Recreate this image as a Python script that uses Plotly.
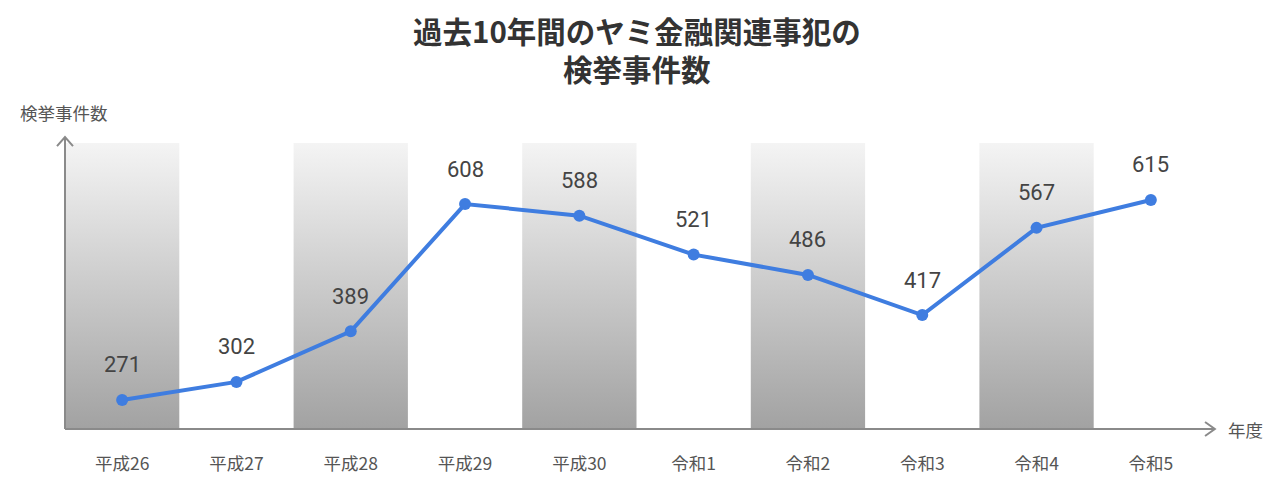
import plotly.graph_objects as go

categories = ["平成26", "平成27", "平成28", "平成29", "平成30", "令和1", "令和2", "令和3", "令和4", "令和5"]
cases = [271, 302, 389, 608, 588, 521, 486, 417, 567, 615]
band_indices = [0, 2, 4, 6, 8]

title_lines = ["過去10年間のヤミ金融関連事犯の", "検挙事件数"]
y_label = "検挙事件数"
x_label = "年度"

FONT = "Noto Sans CJK JP, Roboto, sans-serif"
NUM_FONT = "Roboto, Noto Sans CJK JP, sans-serif"
Y_MIN, Y_MAX = 221, 713
LINE_BLUE = "#3f7de0"
AXIS_GRAY = "#8a8a8a"

fig = go.Figure()

# gradient background bands for alternating years
for i in band_indices:
    fig.add_trace(go.Scatter(
        x=[i - 0.5, i + 0.5, i + 0.5, i - 0.5, i - 0.5],
        y=[Y_MIN, Y_MIN, Y_MAX, Y_MAX, Y_MIN],
        mode="lines", line=dict(width=0), fill="toself",
        fillgradient=dict(type="vertical",
                          colorscale=[[0, "#a2a2a2"], [1, "#f4f4f4"]]),
        hoverinfo="skip", showlegend=False,
    ))

xs = list(range(len(categories)))
fig.add_trace(go.Scatter(
    x=xs, y=cases, mode="lines+markers",
    line=dict(color=LINE_BLUE, width=4),
    marker=dict(color=LINE_BLUE, size=12),
    hoverinfo="skip", showlegend=False,
))

for x, v in zip(xs, cases):
    fig.add_annotation(x=x, y=v, text=str(v), showarrow=False, yshift=35,
                       font=dict(family=NUM_FONT, size=22, color="#444444"))

# axis lines with open chevron arrows
ax = dict(xref="paper", yref="paper", type="line",
          line=dict(color=AXIS_GRAY, width=2))
fig.add_shape(x0=0, y0=0, x1=1.006, y1=0, **ax)
fig.add_shape(x0=0, y0=0, x1=0, y1=1.021, **ax)
fig.add_shape(type="path", xref="paper", yref="paper",
              path="M -0.007 0.989 L 0 1.021 L 0.007 0.989",
              line=dict(color=AXIS_GRAY, width=2))
fig.add_shape(type="path", xref="paper", yref="paper",
              path="M 0.9974 0.0245 L 1.006 0 L 0.9974 -0.0245",
              line=dict(color=AXIS_GRAY, width=2))

fig.add_annotation(xref="paper", yref="paper", x=-0.001, y=1.105,
                   text=y_label, showarrow=False, xanchor="center", yanchor="middle",
                   font=dict(family=FONT, size=17.5, color="#555555"))
fig.add_annotation(xref="paper", yref="paper", x=1.0325, y=0.0,
                   text=x_label, showarrow=False, xanchor="center", yanchor="middle",
                   font=dict(family=FONT, size=17.5, color="#555555"))

# two-line title
for line_text, ypos in zip(title_lines, [1.395, 1.262]):
    fig.add_annotation(xref="paper", yref="paper", x=(637 - 65) / 1143, y=ypos,
                       text=f"<b>{line_text}</b>", showarrow=False,
                       xanchor="center", yanchor="middle",
                       font=dict(family=FONT, size=29.5, color="#333333"))

fig.update_layout(
    width=1280, height=491,
    margin=dict(l=65, r=72, t=143, b=62),
    paper_bgcolor="white", plot_bgcolor="white",
    xaxis=dict(range=[-0.5, 9.5], tickvals=xs, ticktext=categories,
               showgrid=False, zeroline=False, showline=False, ticks="",
               ticklabelstandoff=22,
               tickfont=dict(family=FONT, size=17.5, color="#555555")),
    yaxis=dict(range=[Y_MIN, Y_MAX], showgrid=False, zeroline=False,
               showline=False, showticklabels=False, ticks=""),
)

fig.write_html("out.html")
